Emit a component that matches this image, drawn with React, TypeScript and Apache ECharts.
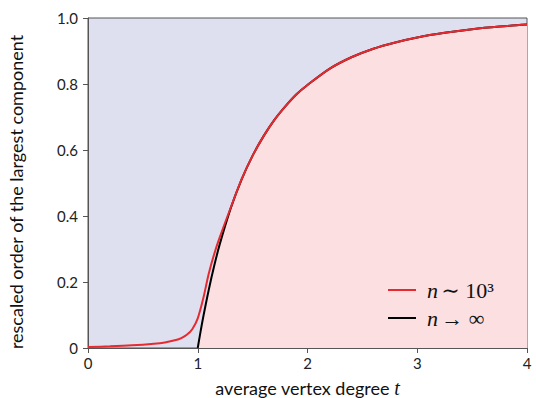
import React, { useEffect, useRef } from "react";
import * as echarts from "echarts";

// average vertex degree t
const limitT = [1, 1.02, 1.05, 1.1, 1.15, 1.2, 1.3, 1.4, 1.5, 1.6, 1.7, 1.8, 1.9, 2.0, 2.2, 2.4, 2.6, 2.8, 3.0, 3.25, 3.5, 3.75, 4.0];
// n -> infinity (rescaled order of largest component)
const limitS = [0, 0.039, 0.094, 0.176, 0.249, 0.314, 0.423, 0.511, 0.583, 0.642, 0.692, 0.733, 0.769, 0.797, 0.846, 0.881, 0.907, 0.926, 0.941, 0.955, 0.966, 0.974, 0.980];

const finiteT = [0, 0.2, 0.4, 0.6, 0.7, 0.8, 0.85, 0.9, 0.95, 1.0, 1.05, 1.1, 1.15, 1.2, 1.3, 1.4, 1.5, 1.6, 1.7, 1.8, 1.9, 2.0, 2.2, 2.4, 2.6, 2.8, 3.0, 3.25, 3.5, 3.75, 4.0];
// n ~ 10^3
const finiteS = [0.003, 0.005, 0.008, 0.013, 0.017, 0.024, 0.03, 0.04, 0.057, 0.09, 0.15, 0.225, 0.285, 0.335, 0.425, 0.512, 0.583, 0.642, 0.692, 0.733, 0.769, 0.797, 0.846, 0.881, 0.907, 0.926, 0.941, 0.955, 0.966, 0.974, 0.980];

const xTicks = [0, 1, 2, 3, 4];
const yTicks = [0, 0.2, 0.4, 0.6, 0.8, 1.0];

const SANS = "Lato, 'Open Sans', sans-serif";
const SERIF = "'Liberation Serif', 'DejaVu Serif', serif";

export default function App() {
  const ref = useRef<HTMLDivElement>(null);
  useEffect(() => {
    if (!ref.current) return;
    const chart = echarts.init(ref.current, undefined, { renderer: "svg" });
    const mathRich = {
      i: { fontFamily: SERIF, fontStyle: "italic", fontSize: 22, color: "#111" },
      r: { fontFamily: SERIF, fontSize: 22, color: "#111" },
    };
    chart.setOption({
      animation: false,
      grid: {
        left: 88,
        right: 9,
        top: 18,
        bottom: 50,
        outerBoundsMode: "none",
        containLabel: false,
        show: true,
        backgroundColor: "#dee0ef",
        borderColor: "#555",
        borderWidth: 1,
      },
      graphic: [
        {
          type: "text",
          x: 16,
          y: 192,
          rotation: Math.PI / 2,
          style: {
            text: "rescaled order of the largest component",
            fontFamily: SANS,
            fontSize: 18,
            fill: "#111",
            align: "center",
            verticalAlign: "middle",
          },
        },
      ],
      legend: {
        orient: "vertical",
        left: 383,
        top: 274,
        icon: "rect",
        itemWidth: 28,
        itemHeight: 2,
        itemGap: 6,
        data: ["finite", "limit"],
        formatter: (name: string) =>
          name === "finite" ? "{i|n} {r|∼ 10³}" : "{i|n} {r|→ ∞}",
        textStyle: { rich: mathRich, padding: [0, 0, 0, 6] },
      },
      xAxis: {
        type: "value",
        min: xTicks[0],
        max: xTicks[xTicks.length - 1],
        interval: 1,
        name: "average vertex degree {t|t}",
        nameLocation: "middle",
        nameGap: 30,
        nameTextStyle: {
          fontFamily: SANS,
          fontSize: 18,
          color: "#111",
          rich: { t: { fontFamily: SERIF, fontStyle: "italic", fontSize: 20, color: "#111" } },
        },
        axisLine: { show: true, lineStyle: { color: "#555" } },
        axisTick: { show: true, inside: false, length: 5, lineStyle: { color: "#555" } },
        axisLabel: { fontFamily: SANS, fontSize: 15, color: "#222", margin: 7 },
        splitLine: { show: false },
      },
      yAxis: {
        type: "value",
        min: yTicks[0],
        max: yTicks[yTicks.length - 1],
        interval: 0.2,
        axisLine: { show: true, lineStyle: { color: "#555" } },
        axisTick: { show: true, inside: false, length: 5, lineStyle: { color: "#555" } },
        axisLabel: {
          fontFamily: SANS,
          fontSize: 15,
          color: "#222",
          margin: 10,
          formatter: (v: number) => (v === 0 ? "0" : v.toFixed(1)),
        },
        splitLine: { show: false },
      },
      series: [
        {
          name: "limit",
          type: "line",
          data: limitT.map((t, i) => [t, limitS[i]]),
          smooth: 0.3,
          showSymbol: false,
          symbol: "none",
          lineStyle: { color: "#000", width: 2 },
          itemStyle: { color: "#000" },
          areaStyle: { color: "#fbdfe1", opacity: 1 },
          z: 2,
        },
        {
          name: "finite",
          type: "line",
          data: finiteT.map((t, i) => [t, finiteS[i]]),
          smooth: 0.3,
          showSymbol: false,
          symbol: "none",
          lineStyle: { color: "#e62a30", width: 2 },
          itemStyle: { color: "#e62a30" },
          z: 3,
        },
      ],
    });
    return () => chart.dispose();
  }, []);
  return <div ref={ref} style={{ width: 536, height: 398, position: "absolute", left: 0, top: 0 }} />;
}
